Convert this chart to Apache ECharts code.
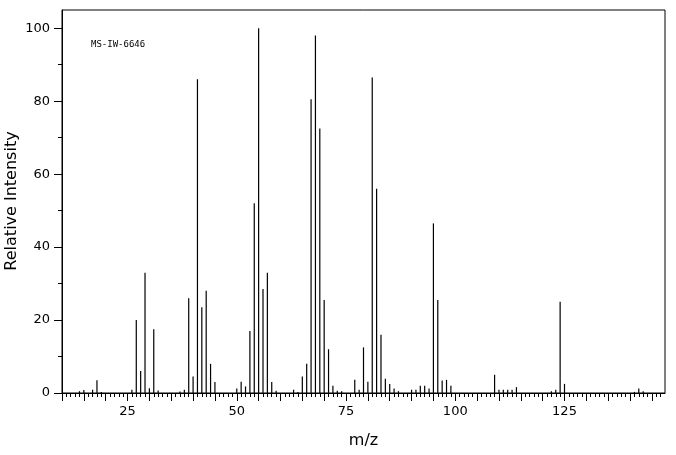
<!DOCTYPE html>
<html>
<head>
<meta charset="utf-8">
<script src="https://cdn.jsdelivr.net/npm/echarts@6/dist/echarts.min.js"></script>
<style>html,body{margin:0;padding:0;background:#fff}#main{width:676px;height:455px}</style>
</head>
<body>
<div id="main"></div>
<script>
var mz = [14,15,17,18,19,26,27,28,29,30,31,32,37,38,39,40,41,42,43,44,45,
  50,51,52,53,54,55,56,57,58,59,63,64,65,66,67,68,69,70,71,72,73,74,
  77,78,79,80,81,82,83,84,85,86,87,90,91,92,93,94,95,96,97,98,99,
  109,110,111,112,113,114,122,123,124,125,141,142,143]
var intensity = [0.5,0.8,0.9,3.5,0.3,0.9,20,6,33,1.3,17.5,0.7,0.4,0.9,26,4.5,86,23.5,28,8,3,
  1.2,3.1,1.8,17,52,100,28.5,33,3,0.6,0.9,0.3,4.5,8,80.5,98,72.5,25.5,12,2,0.6,0.5,
  3.6,0.9,12.5,3.1,86.5,56,16,3.9,2.5,1.2,0.5,0.9,0.9,2,2,1.2,46.5,25.5,3.4,3.6,2,
  5,0.9,0.9,0.9,0.9,1.6,0.5,0.9,25,2.5,0.3,1.2,0.5]
var xLabels = [25,50,75,100,125]
var yLabels = [0,20,40,60,80,100]

function range(a,b,s){let r=[];for(let v=a;v<=b;v+=s)r.push(v);return r}

var pts = mz.map((m,i)=>[m,intensity[i]])
var font = 'DejaVu Sans'
var chart = echarts.init(document.getElementById('main'))
chart.setOption({
  animation:false,
  title:{text:'MS-IW-6646',left:86,top:35,textStyle:{fontSize:9,fontWeight:'normal',fontFamily:'DejaVu Sans Mono',color:'#000'}},
  graphic:[{
    type:'text',x:12,y:201,rotation:Math.PI/2,
    style:{text:'Relative Intensity',fontSize:16,fontFamily:font,fill:'#000',align:'center',verticalAlign:'middle'}
  }],
  grid:{left:62,right:11,top:10,bottom:62,show:true,borderColor:'#000',borderWidth:1,containLabel:false,outerBoundsMode:'none'},
  xAxis:[{
    type:'value',min:10,max:148,
    name:'m/z',nameLocation:'middle',nameGap:40,
    nameTextStyle:{fontSize:16,fontFamily:font,color:'#000'},
    splitLine:{show:false},
    axisLine:{lineStyle:{color:'#000'}},
    axisTick:{customValues:range(10,145,5),length:8,lineStyle:{color:'#000'}},
    axisLabel:{customValues:xLabels,fontSize:13,fontFamily:font,color:'#000',margin:12}
  },{
    type:'value',min:10,max:148,position:'bottom',
    splitLine:{show:false},axisLine:{show:false},axisLabel:{show:false},
    axisTick:{customValues:range(10,147,1),length:4,lineStyle:{color:'#000'}}
  }],
  yAxis:[{
    type:'value',min:0,max:105,
    splitLine:{show:false},
    axisLine:{lineStyle:{color:'#000'}},
    axisTick:{customValues:yLabels,length:8,lineStyle:{color:'#000'}},
    axisLabel:{customValues:yLabels,fontSize:13,fontFamily:font,color:'#000',margin:12}
  },{
    type:'value',min:0,max:105,position:'left',
    splitLine:{show:false},axisLine:{show:false},axisLabel:{show:false},
    axisTick:{customValues:[10,30,50,70,90],length:4,lineStyle:{color:'#000'}}
  }],
  series:[{
    type:'bar',data:pts,barWidth:1.2,
    itemStyle:{color:'#000'},silent:true
  }]
})
</script>
</body>
</html>
